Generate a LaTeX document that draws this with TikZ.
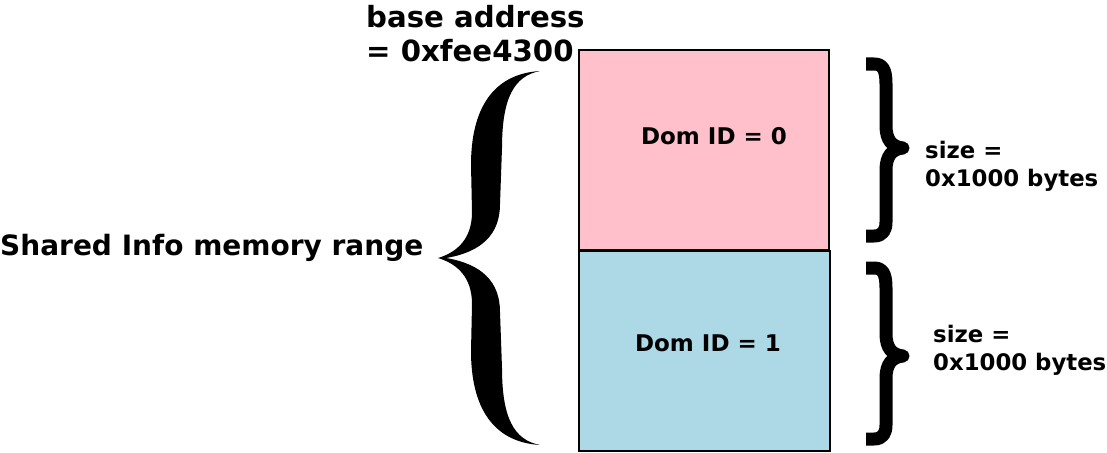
\documentclass[tikz,border=0pt]{standalone}
\usepackage{fontspec}
\setmainfont{DejaVu Sans}
\definecolor{boxpink}{HTML}{FFC0CB}
\definecolor{boxblue}{HTML}{ADD8E6}
\begin{document}
\begin{tikzpicture}[x=1pt,y=-1pt,
  membox/.style={draw=black, line width=1.5pt, minimum width=250pt, minimum height=200pt, inner sep=0pt},
  lbl/.style={inner sep=0pt, font=\bfseries},
  thickbrace/.style={line width=13pt, line join=round}]
\useasboundingbox (0,0) rectangle (1107,452);
% memory boxes
\node[membox, fill=boxpink] (d0) at (704,150) {};
\node[membox, fill=boxblue, minimum width=251pt] (d1) at (704.5,351) {};
\node[lbl, anchor=base, font=\bfseries\fontsize{23}{27}\selectfont] (t0) at (714,144) {Dom ID = 0};
\node[lbl, anchor=base, font=\bfseries\fontsize{23}{27}\selectfont] (t1) at (708,351) {Dom ID = 1};
% labels
\node[lbl, anchor=base west, font=\bfseries\fontsize{28}{33}\selectfont] (range) at (0,255.5) {Shared Info memory range};
\node[lbl, anchor=base west, font=\bfseries\fontsize{29.2}{33}\selectfont] (base1) at (366,28) {base address};
\node[lbl, anchor=base west, font=\bfseries\fontsize{29.2}{33}\selectfont] (base2) at (366,61) {= 0xfee4300};
\node[lbl, anchor=base west, font=\bfseries\fontsize{22.8}{28}\selectfont] (s0a) at (925,158) {size =};
\node[lbl, anchor=base west, font=\bfseries\fontsize{22.8}{28}\selectfont] (s0b) at (925,186) {0x1000 bytes};
\node[lbl, anchor=base west, font=\bfseries\fontsize{22.8}{28}\selectfont] (s1a) at (933,342) {size =};
\node[lbl, anchor=base west, font=\bfseries\fontsize{22.8}{28}\selectfont] (s1b) at (933,370) {0x1000 bytes};
% big left brace
\fill[black] (540,71) .. controls (492,74) and (471,110) .. (471,165) -- (472,212)
  .. controls (472,238) and (458,252) .. (438,258)
  .. controls (458,264) and (472,278) .. (472,304) -- (471,351)
  .. controls (471,406) and (492,442) .. (540,445)
  .. controls (514,440) and (502,418) .. (502,368) -- (500,312)
  .. controls (500,282) and (482,264) .. (446,258)
  .. controls (482,252) and (500,234) .. (500,204) -- (502,148)
  .. controls (502,98) and (514,76) .. (540,71) -- cycle;
% right braces
\draw[thickbrace] (866,64) -- (874,64) .. controls (883,64) and (886,70) .. (886,84) -- (886,126)
  .. controls (886,140) and (892,147) .. (903,148)
  .. controls (892,149) and (886,156) .. (886,170) -- (886,222)
  .. controls (886,230) and (883,236) .. (874,236) -- (866,236);
\draw[thickbrace] (866,268) -- (874,268) .. controls (883,268) and (886,274) .. (886,288) -- (886,334)
  .. controls (886,348) and (892,355) .. (903,356)
  .. controls (892,357) and (886,364) .. (886,378) -- (886,425)
  .. controls (886,433) and (883,439) .. (874,439) -- (866,439);
\end{tikzpicture}
\end{document}
